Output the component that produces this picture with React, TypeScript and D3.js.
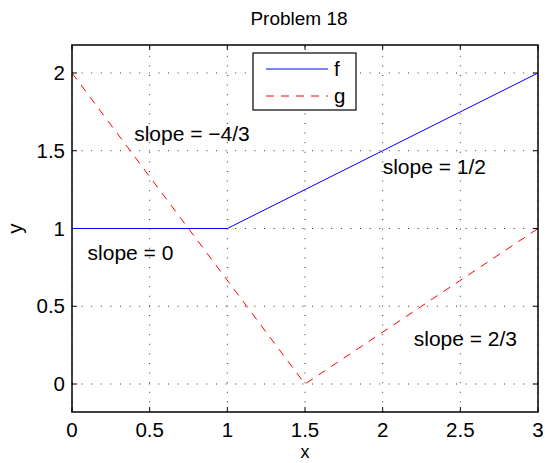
import React from "react";
import * as d3 from "d3";

const W = 545, H = 463;
const fX = [0, 1, 3];
const fY = [1, 1, 2];
const gX = [0, 1.5, 3];
const gY = [2, 0, 1];
const xTicks = [0, 0.5, 1, 1.5, 2, 2.5, 3];
const xTickLabels = ["0", "0.5", "1", "1.5", "2", "2.5", "3"];
const yTicks = [0, 0.5, 1, 1.5, 2];
const yTickLabels = ["0", "0.5", "1", "1.5", "2"];
const annotations = [
  { text: "slope = \u22124/3", x: 0.4, y: 1.56 },
  { text: "slope = 1/2", x: 2.0, y: 1.35 },
  { text: "slope = 0", x: 0.1, y: 0.8 },
  { text: "slope = 2/3", x: 2.2, y: 0.245 },
];
const legendItems = [
  { label: "f", color: "#0000ff", dash: "" },
  { label: "g", color: "#ff0000", dash: "8,7" },
];

const FONT = "Liberation Sans, Arial, Helvetica, sans-serif";

export default function App() {
  const L = 72, R = 538, T = 45, B = 412;
  const x = d3.scaleLinear().domain([0, 3]).range([L, R]);
  const y = d3.scaleLinear().domain([-0.18, 2.18]).range([B, T]);
  const line = d3.line<number>();
  const fPath = line(fX.map((v, i) => [x(v), y(fY[i])] as any));
  const gPath = line(gX.map((v, i) => [x(v), y(gY[i])] as any));
  const fs = 20.5;
  const fa = 21;
  const tl = 5;
  return (
    <svg width={W} height={H} style={{ position: "absolute", left: 0, top: 0, background: "#fff" }} fontFamily={FONT}>
      <rect x={0} y={0} width={W} height={H} fill="#fff" />
      {/* grid */}
      {xTicks.map((t, i) => (
        <line key={"gx" + i} x1={x(t)} x2={x(t)} y1={B} y2={T} stroke="#000" strokeWidth={1} strokeDasharray="1,8.6" opacity={0.8} />
      ))}
      {yTicks.map((t, i) => (
        <line key={"gy" + i} x1={L} x2={R} y1={y(t)} y2={y(t)} stroke="#000" strokeWidth={1} strokeDasharray="1,8.6" opacity={0.8} />
      ))}
      {/* ticks */}
      {xTicks.map((t, i) => (
        <g key={"tx" + i}>
          <line x1={x(t)} x2={x(t)} y1={B} y2={B - tl} stroke="#000" />
          <line x1={x(t)} x2={x(t)} y1={T} y2={T + tl} stroke="#000" />
          <text x={x(t)} y={437} fontSize={fs} textAnchor="middle">{xTickLabels[i]}</text>
        </g>
      ))}
      {yTicks.map((t, i) => (
        <g key={"ty" + i}>
          <line x1={L} x2={L + tl} y1={y(t)} y2={y(t)} stroke="#000" />
          <line x1={R} x2={R - tl} y1={y(t)} y2={y(t)} stroke="#000" />
          <text x={65} y={y(t) + 7} fontSize={fs} textAnchor="end">{yTickLabels[i]}</text>
        </g>
      ))}
      {/* data */}
      <path d={fPath!} fill="none" stroke="#0000ff" strokeWidth={1} />
      <path d={gPath!} fill="none" stroke="#ff0000" strokeWidth={1} strokeDasharray="8,7" />
      {/* box */}
      <rect x={L} y={T} width={R - L} height={B - T} fill="none" stroke="#000" strokeWidth={1.5} />
      {/* annotations */}
      {annotations.map((a, i) => (
        <text key={"a" + i} x={x(a.x)} y={y(a.y)} fontSize={fa}>{a.text}</text>
      ))}
      {/* legend */}
      <rect x={253} y={53} width={103} height={57} fill="#fff" stroke="#000" strokeWidth={1.2} />
      {legendItems.map((it, i) => (
        <g key={"l" + i}>
          <line x1={266} x2={328} y1={69 + i * 27} y2={69 + i * 27} stroke={it.color} strokeDasharray={it.dash} strokeWidth={1} />
          <text x={334} y={69 + i * 27 + 7} fontSize={fs}>{it.label}</text>
        </g>
      ))}
      {/* titles */}
      <text x={299} y={25} fontSize={19} textAnchor="middle">Problem 18</text>
      <text x={305} y={458} fontSize={18} textAnchor="middle">x</text>
      <text transform={`translate(22, ${(T + B) / 2}) rotate(-90)`} fontSize={fs} textAnchor="middle">y</text>
    </svg>
  );
}
